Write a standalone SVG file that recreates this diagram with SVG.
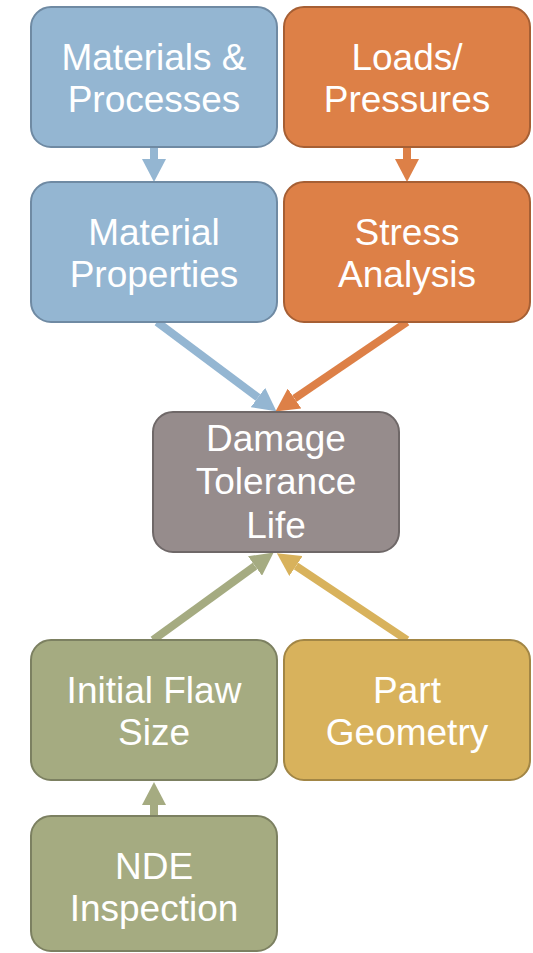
<svg xmlns="http://www.w3.org/2000/svg" width="533" height="953" viewBox="0 0 533 953">
<style>
  .box { stroke-width: 2; }
  .blue { fill: #94B6D2; stroke: #6F8AA3; }
  .orange { fill: #DD8047; stroke: #A65F34; }
  .grey { fill: #968C8C; stroke: #6F6868; }
  .green { fill: #A5AB81; stroke: #7C8061; }
  .yellow { fill: #D8B25C; stroke: #A28645; }
  text { font-family: "Liberation Sans", Arial, sans-serif; font-size: 37px; fill: #FFFFFF; text-anchor: middle; }
  .conn { stroke-width: 8; fill: none; stroke-linecap: butt; }
</style>
<defs>
  <marker id="hBlue" viewBox="0 0 23 24" refX="0" refY="12" markerWidth="23" markerHeight="24" markerUnits="userSpaceOnUse" orient="auto"><path d="M0,0 L23,12 L0,24 z" fill="#94B6D2"/></marker>
  <marker id="hOrange" viewBox="0 0 23 24" refX="0" refY="12" markerWidth="23" markerHeight="24" markerUnits="userSpaceOnUse" orient="auto"><path d="M0,0 L23,12 L0,24 z" fill="#DD8047"/></marker>
  <marker id="hGreen" viewBox="0 0 23 24" refX="0" refY="12" markerWidth="23" markerHeight="24" markerUnits="userSpaceOnUse" orient="auto"><path d="M0,0 L23,12 L0,24 z" fill="#A5AB81"/></marker>
  <marker id="hYellow" viewBox="0 0 23 24" refX="0" refY="12" markerWidth="23" markerHeight="24" markerUnits="userSpaceOnUse" orient="auto"><path d="M0,0 L23,12 L0,24 z" fill="#D8B25C"/></marker>
</defs>

<g id="connectors">
  <path class="conn" stroke="#94B6D2" stroke-width="10" d="M154,148 L154,159" marker-end="url(#hBlue)"/>
  <path class="conn" stroke="#DD8047" stroke-width="10" d="M407,148 L407,159" marker-end="url(#hOrange)"/>
  <path class="conn" stroke="#94B6D2" d="M157,322 L258,397.5" marker-end="url(#hBlue)"/>
  <path class="conn" stroke="#DD8047" d="M407,322 L294.5,398.5" marker-end="url(#hOrange)"/>
  <path class="conn" stroke="#A5AB81" d="M153,640 L255,566" marker-end="url(#hGreen)"/>
  <path class="conn" stroke="#D8B25C" d="M407,640 L296,566" marker-end="url(#hYellow)"/>
  <path class="conn" stroke="#A5AB81" d="M154,816 L154,805" marker-end="url(#hGreen)"/>
</g>

<g id="materials-processes">
  <rect class="box blue" x="31" y="7" width="246" height="140" rx="20"/>
  <text x="154" y="70">Materials &amp;</text>
  <text x="154" y="112">Processes</text>
</g>
<g id="loads-pressures">
  <rect class="box orange" x="284" y="7" width="246" height="140" rx="20"/>
  <text x="407" y="70">Loads/</text>
  <text x="407" y="112">Pressures</text>
</g>
<g id="material-properties">
  <rect class="box blue" x="31" y="182" width="246" height="140" rx="20"/>
  <text x="154" y="245">Material</text>
  <text x="154" y="287">Properties</text>
</g>
<g id="stress-analysis">
  <rect class="box orange" x="284" y="182" width="246" height="140" rx="20"/>
  <text x="407" y="245">Stress</text>
  <text x="407" y="287">Analysis</text>
</g>
<g id="damage-tolerance-life">
  <rect class="box grey" x="153" y="412" width="246" height="140" rx="20"/>
  <text x="276" y="451">Damage</text>
  <text x="276" y="494">Tolerance</text>
  <text x="276" y="538">Life</text>
</g>
<g id="initial-flaw-size">
  <rect class="box green" x="31" y="640" width="246" height="140" rx="20"/>
  <text x="154" y="703">Initial Flaw</text>
  <text x="154" y="745">Size</text>
</g>
<g id="part-geometry">
  <rect class="box yellow" x="284" y="640" width="246" height="140" rx="20"/>
  <text x="407" y="703">Part</text>
  <text x="407" y="745">Geometry</text>
</g>
<g id="nde-inspection">
  <rect class="box green" x="31" y="816" width="246" height="135" rx="20"/>
  <text x="154" y="879">NDE</text>
  <text x="154" y="921">Inspection</text>
</g>
</svg>
